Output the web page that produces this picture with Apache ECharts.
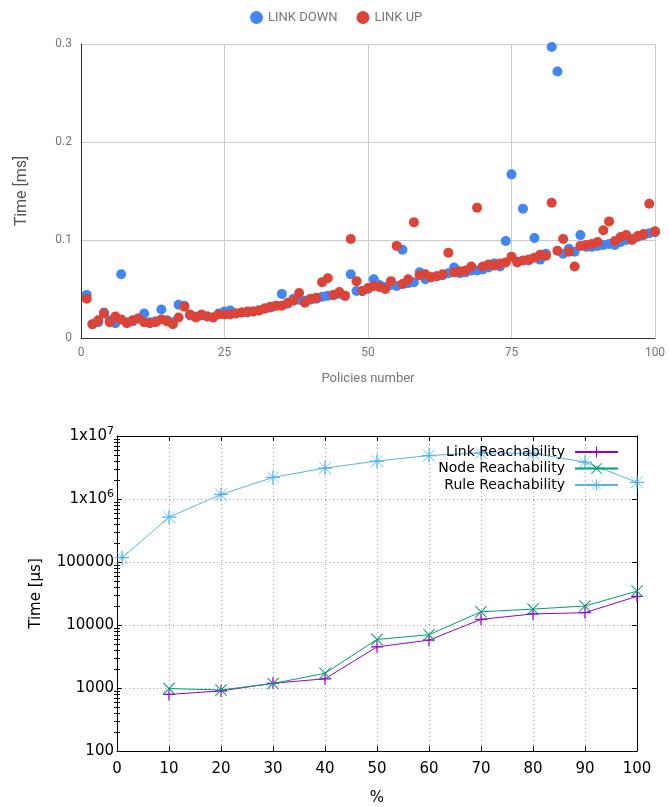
<!DOCTYPE html>
<html><head><meta charset="utf-8">
<script src="https://cdn.jsdelivr.net/npm/echarts@6/dist/echarts.min.js"></script>
<style>html,body{margin:0;padding:0;background:#fff}#c{width:669px;height:807px}</style>
</head><body><div id="c"></div>
<script>
// ---------- Top chart data ----------
const policies = [];
for (let i = 1; i <= 100; i++) policies.push(i);
const linkDown = [0.044,0.014,0.016,0.026,0.018,0.015,0.065,0.016,0.017,0.020,
0.025,0.016,0.017,0.029,0.018,0.016,0.034,0.033,0.023,0.022,
0.023,0.022,0.021,0.025,0.027,0.028,0.025,0.026,0.026,0.027,
0.028,0.030,0.031,0.033,0.045,0.035,0.040,0.039,0.038,0.039,
0.040,0.042,0.043,0.044,0.045,0.043,0.065,0.048,0.048,0.050,
0.060,0.054,0.052,0.054,0.053,0.090,0.056,0.057,0.067,0.060,
0.062,0.063,0.064,0.066,0.072,0.066,0.067,0.069,0.069,0.070,
0.072,0.076,0.073,0.099,0.167,0.078,0.132,0.079,0.102,0.080,
0.086,0.297,0.272,0.086,0.091,0.088,0.105,0.093,0.093,0.094,
0.095,0.096,0.095,0.098,0.100,0.101,0.103,0.105,0.107,0.108];
const linkUp = [0.040,0.014,0.018,0.025,0.016,0.022,0.019,0.015,0.018,0.020,
0.016,0.015,0.016,0.019,0.017,0.014,0.021,0.032,0.024,0.021,
0.024,0.022,0.021,0.024,0.024,0.024,0.025,0.026,0.027,0.027,
0.028,0.030,0.032,0.033,0.033,0.036,0.038,0.046,0.036,0.040,
0.041,0.057,0.061,0.044,0.047,0.043,0.101,0.058,0.048,0.051,
0.053,0.052,0.050,0.058,0.094,0.055,0.060,0.118,0.064,0.065,
0.062,0.063,0.065,0.087,0.067,0.068,0.069,0.073,0.133,0.073,
0.075,0.074,0.076,0.077,0.083,0.077,0.079,0.080,0.082,0.085,
0.084,0.138,0.089,0.101,0.088,0.073,0.094,0.095,0.096,0.098,
0.110,0.119,0.099,0.103,0.105,0.100,0.104,0.106,0.137,0.109];

// ---------- Bottom chart data ----------
const percentLink = [10,20,30,40,50,60,70,80,90,100];
const linkReach   = [790,900,1190,1400,4500,5750,12300,15000,15700,28500];
const percentNode = [10,20,30,40,50,60,70,80,90,100];
const nodeReach   = [980,930,1180,1710,5900,7000,16200,17900,20000,34500];
const percentRule = [1,10,20,30,40,50,60,70,80,90,100];
const ruleReach   = [117000,516000,1180000,2200000,3100000,4000000,4900000,5400000,5300000,3860000,1840000];

// log minor tick positions (2..9 in each decade)
const yMinorTicks = [];
[100,1000,10000,100000,1000000].forEach(d => { for (let k = 2; k <= 9; k++) yMinorTicks.push(d*k); });

const PLUS = 'path://M4.5,0H5.5V4.5H10V5.5H5.5V10H4.5V5.5H0V4.5H4.5Z';
const CROSS = 'path://M0,0.6L0.6,0L5,4.4L9.4,0L10,0.6L5.6,5L10,9.4L9.4,10L5,5.6L0.6,10L0,9.4L4.4,5Z';
const STAR = 'path://M4.55,0H5.45V4.55H10V5.45H5.45V10H4.55V5.45H0V4.55H4.55Z M0.6,0.9L0.9,0.6L5,4.7L9.1,0.6L9.4,0.9L5.3,5L9.4,9.1L9.1,9.4L5,5.3L0.9,9.4L0.6,9.1L4.7,5Z';

const G = 'Roboto, Arial, sans-serif';
const D = '"DejaVu Sans", sans-serif';

const chart = echarts.init(document.getElementById('c'), null, {renderer: 'canvas'});

const supFmt = v => {
  if (v >= 1000000) return '1x10{sup|' + Math.round(Math.log10(v)) + '}';
  return String(v);
};

const option = {
  animation: false,
  backgroundColor: '#fff',
  legend: [
    {
      data: ['LINK DOWN', 'LINK UP'],
      top: 6, left: 245,
      icon: 'circle', itemWidth: 13, itemHeight: 13, itemGap: 19,
      textStyle: {color: '#757575', fontSize: 13, fontFamily: G}
    },
    {
      data: ['Link Reachability', 'Node Reachability', 'Rule Reachability'],
      orient: 'vertical', align: 'right',
      right: 50, top: 445, itemGap: 2.5,
      itemWidth: 43, itemHeight: 14,
      padding: 0,
      textStyle: {color: '#000', fontSize: 14, fontFamily: D, padding: [0, 5, 0, 0]}
    }
  ],
  grid: [
    {left: 81, right: 14, top: 44, height: 294},
    {left: 117, right: 32, top: 436, height: 321}
  ],
  xAxis: [
    {
      gridIndex: 0, type: 'value', min: 0, max: 100, interval: 25,
      name: 'Policies number', nameLocation: 'middle', nameGap: 34,
      nameTextStyle: {color: '#757575', fontSize: 13, fontFamily: G},
      axisLine: {show: true, lineStyle: {color: '#333', width: 1}},
      axisTick: {show: false},
      axisLabel: {color: '#757575', fontSize: 12, fontFamily: G, margin: 9},
      splitLine: {show: true, lineStyle: {color: '#ccc', width: 1}}
    },
    {
      gridIndex: 1, type: 'value', min: 0, max: 100, interval: 10,
      name: '%', nameLocation: 'middle', nameGap: 40,
      nameTextStyle: {color: '#000', fontSize: 15, fontFamily: D},
      axisLine: {show: true, onZero: false, lineStyle: {color: '#000', width: 1}},
      axisTick: {show: true, inside: true, length: 5, lineStyle: {color: '#000'}},
      axisLabel: {color: '#000', fontSize: 15, fontFamily: D, margin: 11},
      splitLine: {show: true, lineStyle: {color: '#a0a0a0', width: 1, type: [1, 3]}}
    },
    {
      gridIndex: 1, type: 'value', min: 0, max: 100, interval: 10, position: 'top',
      axisLine: {show: true, onZero: false, lineStyle: {color: '#000', width: 1}},
      axisTick: {show: true, inside: true, length: 5, lineStyle: {color: '#000'}},
      axisLabel: {show: false},
      splitLine: {show: false}
    }
  ],
  yAxis: [
    {
      gridIndex: 0, type: 'value', min: 0, max: 0.3, interval: 0.1,
      name: 'Time [ms]', nameLocation: 'middle', nameGap: 51, nameRotate: 90,
      nameTextStyle: {color: '#555', fontSize: 16, fontFamily: G},
      axisLine: {show: true, lineStyle: {color: '#333', width: 1}},
      axisTick: {show: false},
      axisLabel: {color: '#757575', fontSize: 12, fontFamily: G, margin: 9},
      splitLine: {show: true, lineStyle: {color: '#ccc', width: 1}}
    },
    {
      gridIndex: 1, type: 'log', logBase: 10, min: 100, max: 10000000, interval: 1,
      name: 'Time [µs]', nameLocation: 'middle', nameGap: 73, nameRotate: 90,
      nameTextStyle: {color: '#000', fontSize: 15, fontFamily: D},
      axisLine: {show: true, onZero: false, lineStyle: {color: '#000', width: 1}},
      axisTick: {show: true, inside: true, length: 5, lineStyle: {color: '#000'}},
      axisLabel: {
        color: '#000', fontSize: 15, fontFamily: D, margin: 3,
        formatter: supFmt,
        rich: {sup: {fontSize: 11, fontFamily: D, color: '#000', verticalAlign: 'top', padding: [0, 0, 9, 0]}}
      },
      splitLine: {show: true, lineStyle: {color: '#a0a0a0', width: 1, type: [1, 3]}}
    },
    {
      gridIndex: 1, type: 'log', logBase: 10, min: 100, max: 10000000, position: 'left',
      axisLine: {show: false},
      axisTick: {show: true, inside: true, length: 3, customValues: yMinorTicks, lineStyle: {color: '#000'}},
      axisLabel: {show: false}, splitLine: {show: false}
    },
    {
      gridIndex: 1, type: 'log', logBase: 10, min: 100, max: 10000000, interval: 1, position: 'right',
      axisLine: {show: true, onZero: false, lineStyle: {color: '#000', width: 1}},
      axisTick: {show: true, inside: true, length: 5, lineStyle: {color: '#000'}},
      axisLabel: {show: false}, splitLine: {show: false}
    },
    {
      gridIndex: 1, type: 'log', logBase: 10, min: 100, max: 10000000, position: 'right',
      axisLine: {show: false},
      axisTick: {show: true, inside: true, length: 3, customValues: yMinorTicks, lineStyle: {color: '#000'}},
      axisLabel: {show: false}, splitLine: {show: false}
    }
  ],
  series: [
    {
      name: 'LINK DOWN', type: 'scatter', xAxisIndex: 0, yAxisIndex: 0,
      symbol: 'circle', symbolSize: 10,
      itemStyle: {color: '#4285F4', opacity: 1},
      data: policies.map((p, i) => [p, linkDown[i]])
    },
    {
      name: 'LINK UP', type: 'scatter', xAxisIndex: 0, yAxisIndex: 0,
      symbol: 'circle', symbolSize: 10,
      itemStyle: {color: '#DB4437', opacity: 1},
      data: policies.map((p, i) => [p, linkUp[i]])
    },
    {
      name: 'Link Reachability', type: 'line', xAxisIndex: 1, yAxisIndex: 1,
      symbol: PLUS, symbolSize: 12, showAllSymbol: true,
      itemStyle: {color: '#9400D3'},
      lineStyle: {color: '#9400D3', width: 1},
      data: percentLink.map((p, i) => [p, linkReach[i]])
    },
    {
      name: 'Node Reachability', type: 'line', xAxisIndex: 1, yAxisIndex: 1,
      symbol: CROSS, symbolSize: 12, showAllSymbol: true,
      itemStyle: {color: '#009E73'},
      lineStyle: {color: '#009E73', width: 1},
      data: percentNode.map((p, i) => [p, nodeReach[i]])
    },
    {
      name: 'Rule Reachability', type: 'line', xAxisIndex: 1, yAxisIndex: 1,
      symbol: STAR, symbolSize: 14, showAllSymbol: true,
      itemStyle: {color: '#56B4E9'},
      lineStyle: {color: '#56B4E9', width: 1},
      data: percentRule.map((p, i) => [p, ruleReach[i]])
    }
  ]
};
chart.setOption(option);
</script>
</body></html>
